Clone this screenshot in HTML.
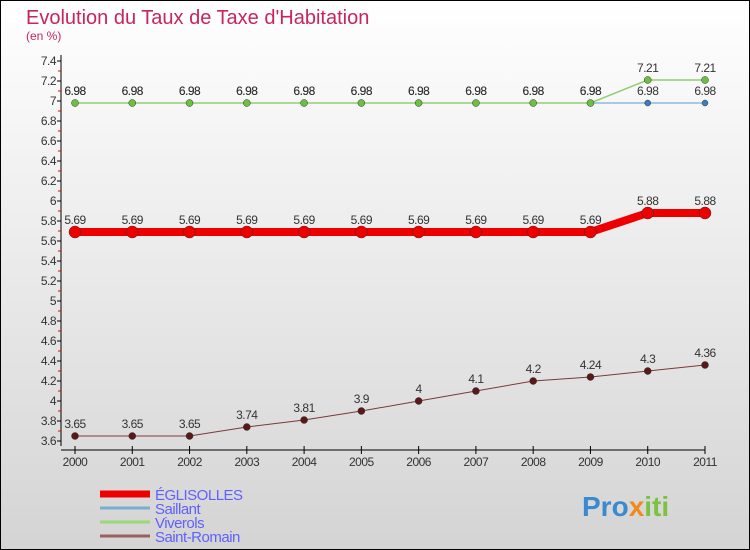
<!DOCTYPE html>
<html><head><meta charset="utf-8"><style>
body{margin:0}
svg{display:block;font-family:"Liberation Sans",sans-serif}
</style></head><body>
<svg id="c" width="750" height="550">
<defs><linearGradient id="bg" x1="0" y1="0" x2="0" y2="1"><stop offset="0" stop-color="#ffffff"/><stop offset="1" stop-color="#d4d4d4"/></linearGradient></defs>
<rect x="0.5" y="0.5" width="749" height="549" fill="url(#bg)" stroke="#000"/>
<text x="26" y="24" font-size="20" fill="#c8245e">Evolution du Taux de Taxe d'Habitation</text>
<text x="26" y="40" font-size="12" fill="#c8245e">(en %)</text>
<g id="axes"></g><g id="series"></g><g id="legend"></g>
<text x="582" y="516" font-size="28" font-weight="bold" fill="#3a8ad0">Pro<tspan fill="#f08a1c">x</tspan><tspan fill="#7cc242">iti</tspan></text>
</svg>
<script>
const years=[2000,2001,2002,2003,2004,2005,2006,2007,2008,2009,2010,2011];
const eglisolles=[5.69,5.69,5.69,5.69,5.69,5.69,5.69,5.69,5.69,5.69,5.88,5.88];
const saillant=[6.98,6.98,6.98,6.98,6.98,6.98,6.98,6.98,6.98,6.98,6.98,6.98];
const viverols=[6.98,6.98,6.98,6.98,6.98,6.98,6.98,6.98,6.98,6.98,7.21,7.21];
const saintRomain=[3.65,3.65,3.65,3.74,3.81,3.9,4,4.1,4.2,4.24,4.3,4.36];
const yTicks=[3.6,3.8,4,4.2,4.4,4.6,4.8,5,5.2,5.4,5.6,5.8,6,6.2,6.4,6.6,6.8,7,7.2,7.4];
const NS="http://www.w3.org/2000/svg";
const x=i=>75+i*(630/11);
const y=v=>441-(v-3.6)*100;
function mk(t,a,p){const e=document.createElementNS(NS,t);for(const k in a)e.setAttribute(k,a[k]);p.appendChild(e);return e;}
const ax=document.getElementById('axes');
let l=mk('line',{x1:61,y1:55,x2:61,y2:446,stroke:'#000'},ax);


l=mk('line',{x1:61,y1:450,x2:705,y2:450,stroke:'#000'},ax);


yTicks.forEach((v,i)=>{
  mk('line',{x1:57,y1:y(v),x2:61,y2:y(v),stroke:'#000'},ax);
  if(i<yTicks.length-1)mk('line',{x1:58,y1:y(v+0.1),x2:61,y2:y(v+0.1),stroke:'#e00'},ax);
  const t=mk('text',{x:56,y:y(v)+4,'font-size':12,'text-anchor':'end',fill:'#333','letter-spacing':'-0.5'},ax);
  t.textContent=String(v);
  
  
});
years.forEach((yr,i)=>{
  mk('line',{x1:x(i),y1:446,x2:x(i),y2:454,stroke:'#000'},ax);
  const t=mk('text',{x:x(i),y:466,'font-size':12,'text-anchor':'middle',fill:'#333','letter-spacing':'-0.5'},ax);
  t.textContent=yr;
  
  
});
const sg=document.getElementById('series');
function series(vals,name,color,w,r,dot,labels){
  const g=mk('g',{},sg);
  
  
  const p=mk('polyline',{points:vals.map((v,i)=>x(i)+','+y(v)).join(' '),fill:'none',stroke:color,'stroke-width':w},g);
  
  
  vals.forEach((v,i)=>{
    const c=mk('circle',{cx:x(i),cy:y(v),r:r,fill:dot,stroke:'#333','stroke-width':0.5},g);
    
    
    if(labels){const t=mk('text',{x:x(i),y:y(v)-8,'font-size':12,'text-anchor':'middle',fill:'#333','letter-spacing':'-0.5'},g);
    t.textContent=String(v);
    
    }
  });
}
series(saillant,'saillant','#5a9bd0',1,3,'#3a7ec0',true);
series(viverols,'viverols','#8fd070',1.5,3.5,'#6cc040',true);
series(eglisolles,'eglisolles','#ee0000',8,6,'#ee0000',true);
series(saintRomain,'saint-romain','#7a3a3a',1,3.5,'#5a1818',true);
const lg=document.getElementById('legend');
const names=['ÉGLISOLLES','Saillant','Viverols','Saint-Romain'];
const cols=['#ee0000','#7aaed0','#9ad878','#9a6060'];
const ws=[7,3,3,3];
names.forEach((n,i)=>{
  const yy=494+i*14;
  mk('line',{x1:100,y1:yy,x2:150,y2:yy,stroke:cols[i],'stroke-width':ws[i]},lg);
  const t=mk('text',{x:155,y:yy+6,'font-size':15,fill:'#6060ff','letter-spacing':'-0.5'},lg);
  t.textContent=n;
  
  
});
</script>
</body></html>
